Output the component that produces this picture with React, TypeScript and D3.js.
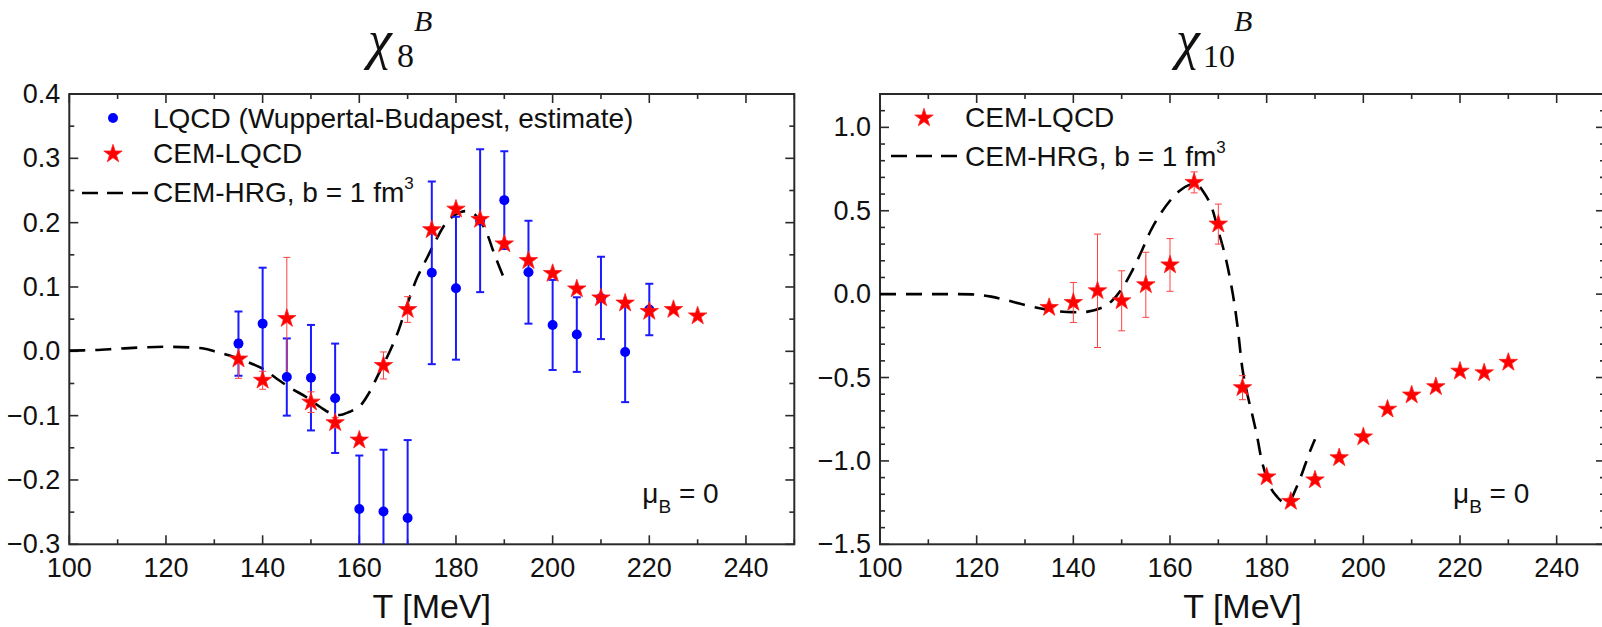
import React from "react";
import * as d3 from "d3";

// ---------- Data ----------
const T_LQCD = [135, 140, 145, 150, 155, 160, 165, 170, 175, 180, 185, 190, 195, 200, 205, 210, 215, 220];
const chi8_LQCD = [0.012, 0.043, -0.04, -0.041, -0.073, -0.245, -0.249, -0.259, 0.122, 0.098, 0.203, 0.235, 0.123, 0.041, 0.026, 0.083, -0.001, 0.065];
const chi8_LQCD_err = [0.05, 0.087, 0.06, 0.082, 0.085, 0.083, 0.096, 0.121, 0.142, 0.111, 0.111, 0.076, 0.08, 0.07, 0.058, 0.064, 0.078, 0.04];

const T_CEM = [135, 140, 145, 150, 155, 160, 165, 170, 175, 180, 185, 190, 195, 200, 205, 210, 215, 220, 225, 230];
const chi8_CEM = [-0.012, -0.045, 0.051, -0.079, -0.111, -0.138, -0.022, 0.065, 0.189, 0.221, 0.205, 0.167, 0.141, 0.121, 0.097, 0.083, 0.075, 0.062, 0.065, 0.055];
const chi8_CEM_err = [0.03, 0.014, 0.095, 0.016, 0.008, 0.005, 0.021, 0.02, 0.005, 0.005, 0.005, 0.005, 0.005, 0.004, 0.004, 0.004, 0.004, 0.004, 0, 0];

const chi10_CEM = [-0.08, -0.05, 0.02, -0.04, 0.056, 0.175, 0.67, 0.42, -0.561, -1.096, -1.243, -1.114, -0.981, -0.856, -0.69, -0.605, -0.555, -0.462, -0.472, -0.409];
const chi10_CEM_err = [0.02, 0.12, 0.34, 0.18, 0.195, 0.158, 0.063, 0.12, 0.072, 0.02, 0.02, 0.02, 0.02, 0.02, 0.01, 0.01, 0.01, 0.01, 0.01, 0.01];

const T_HRG8 = [100, 105, 110, 115, 120, 125, 128, 130, 133, 136, 140, 143, 146, 149, 152, 154, 156, 158, 160, 162, 164, 166, 168, 170, 172, 174, 176, 178, 180, 182, 184, 186, 188, 190];
const chi8_HRG = [0.001, 0.002, 0.004, 0.006, 0.007, 0.006, 0.004, 0.0, -0.006, -0.014, -0.027, -0.043, -0.058, -0.071, -0.087, -0.096, -0.099, -0.094, -0.086, -0.065, -0.035, -0.005, 0.03, 0.075, 0.115, 0.145, 0.175, 0.2, 0.213, 0.218, 0.212, 0.19, 0.15, 0.112];

const T_HRG10 = [100, 105, 110, 115, 120, 123, 126, 130, 133, 136, 140, 143, 146, 148, 150, 152, 154, 156, 158, 160, 162, 164, 165.5, 167, 168.5, 170, 171.5, 173, 174, 175, 176, 177, 178, 179, 180, 181, 182, 183, 184, 185, 186, 187, 188, 189, 190];
const chi10_HRG = [0, 0, 0, 0, -0.003, -0.015, -0.035, -0.065, -0.085, -0.1, -0.108, -0.105, -0.08, -0.04, 0.03, 0.13, 0.25, 0.38, 0.48, 0.56, 0.62, 0.655, 0.66, 0.61, 0.53, 0.38, 0.22, 0.0, -0.2, -0.45, -0.6, -0.72, -0.85, -1.0, -1.1, -1.17, -1.21, -1.24, -1.25, -1.23, -1.17, -1.1, -1.02, -0.94, -0.87];

const xTicks = [100, 120, 140, 160, 180, 200, 220, 240];
const yTicks8 = [-0.3, -0.2, -0.1, 0.0, 0.1, 0.2, 0.3, 0.4];
const yTicks10 = [-1.5, -1.0, -0.5, 0.0, 0.5, 1.0];

const FONT = "'Liberation Sans', Arial, sans-serif";
const SERIF = "'Liberation Serif', 'DejaVu Serif', serif";

type PanelProps = {
  id: string;
  x0: number;
  x1: number;
  yDomain: [number, number];
  yTicks: number[];
  yMinorStep: number;
  yFmt: (v: number) => string;
  children: (x: d3.ScaleLinear<number, number>, y: d3.ScaleLinear<number, number>) => React.ReactNode;
};

const TOP = 94;
const BOTTOM = 544.3;

function Panel({ id, x0, x1, yDomain, yTicks, yMinorStep, yFmt, children }: PanelProps) {
  const x = d3.scaleLinear().domain([100, 250]).range([x0, x1]);
  const y = d3.scaleLinear().domain(yDomain).range([BOTTOM, TOP]);
  const xMinor = d3.range(100, 250.001, 10);
  const nMinor = Math.round((yDomain[1] - yDomain[0]) / yMinorStep);
  const yMinor = d3.range(0, nMinor + 1).map((i) => yDomain[0] + i * yMinorStep);
  const isMajorY = (v: number) => yTicks.some((t) => Math.abs(t - v) < 1e-6);
  const stroke = "#2a2a2a";
  return (
    <g>
      <defs>
        <clipPath id={id}>
          <rect x={x0} y={TOP} width={x1 - x0} height={BOTTOM - TOP} />
        </clipPath>
      </defs>
      {xMinor.map((t) => {
        const major = t % 20 === 0;
        const L = major ? 9 : 5;
        return (
          <g key={"xt" + t}>
            <line x1={x(t)} x2={x(t)} y1={BOTTOM} y2={BOTTOM - L} stroke={stroke} strokeWidth={1.6} />
            <line x1={x(t)} x2={x(t)} y1={TOP} y2={TOP + L} stroke={stroke} strokeWidth={1.6} />
          </g>
        );
      })}
      {yMinor.map((v, i) => {
        const L = isMajorY(v) ? 9 : 5;
        return (
          <g key={"yt" + i}>
            <line x1={x0} x2={x0 + L} y1={y(v)} y2={y(v)} stroke={stroke} strokeWidth={1.6} />
            <line x1={x1} x2={x1 - L} y1={y(v)} y2={y(v)} stroke={stroke} strokeWidth={1.6} />
          </g>
        );
      })}
      <rect x={x0} y={TOP} width={x1 - x0} height={BOTTOM - TOP} fill="none" stroke={stroke} strokeWidth={2} />
      {xTicks.map((t) => (
        <text key={"xl" + t} x={x(t)} y={577} textAnchor="middle" fontFamily={FONT} fontSize={27} fill="#111">
          {t}
        </text>
      ))}
      {yTicks.map((v) => (
        <text key={"yl" + v} x={x0 - 9} y={y(v) + 9} textAnchor="end" fontFamily={FONT} fontSize={27} fill="#111">
          {yFmt(v)}
        </text>
      ))}
      <text x={(x0 + x1) / 2} y={618} textAnchor="middle" fontFamily={FONT} fontSize={34} fill="#111">
        T [MeV]
      </text>
      <g clipPath={`url(#${id})`}>{children(x, y)}</g>
      <text x={x0 + 573} y={503} fontFamily={FONT} fontSize={28} fill="#111">
        μ<tspan fontSize={19} dy={10}>B</tspan>
        <tspan dy={-10}> = 0</tspan>
      </text>
    </g>
  );
}

const starPath = d3.symbol().type(d3.symbolStar).size(105)()!;

function Star({ cx, cy }: { cx: number; cy: number }) {
  return <path d={starPath} transform={`translate(${cx},${cy})`} fill="#ff0000" stroke="#ff2020" strokeWidth={0.8} />;
}

function ErrBar({ x, yTop, yBot, color, w, cap }: { x: number; yTop: number; yBot: number; color: string; w: number; cap: number }) {
  return (
    <g stroke={color} strokeWidth={w}>
      <line x1={x} x2={x} y1={yTop} y2={yBot} />
      <line x1={x - cap} x2={x + cap} y1={yTop} y2={yTop} />
      <line x1={x - cap} x2={x + cap} y1={yBot} y2={yBot} />
    </g>
  );
}

export default function App() {
  const fmt1 = (v: number) => (Math.abs(v) < 1e-9 ? "0.0" : d3.format(".1f")(v));
  return (
    <svg width={1602} height={627} style={{ position: "absolute", left: 0, top: 0, background: "#fff" }}>
      <rect width={1602} height={627} fill="#fff" />
      {/* Titles */}
      <text x={368} y={58} fontFamily={SERIF} fontSize={54} fontStyle="italic" fill="#111">χ</text>
      <text x={397} y={67} fontFamily={SERIF} fontSize={34} fill="#111">8</text>
      <text x={414} y={31} fontFamily={SERIF} fontSize={30} fontStyle="italic" fill="#111">B</text>

      <text x={1176} y={58} fontFamily={SERIF} fontSize={54} fontStyle="italic" fill="#111">χ</text>
      <text x={1203} y={67} fontFamily={SERIF} fontSize={32} fill="#111">10</text>
      <text x={1234} y={31} fontFamily={SERIF} fontSize={30} fontStyle="italic" fill="#111">B</text>

      <Panel id="clipL" x0={69.3} x1={794.3} yDomain={[-0.3, 0.4]} yTicks={yTicks8} yMinorStep={0.05} yFmt={fmt1}>
        {(x, y) => {
          const line = d3
            .line<number>()
            .x((_, i) => x(T_HRG8[i]))
            .y((d) => y(d))
            .curve(d3.curveCatmullRom);
          return (
            <g>
              <path d={line(chi8_HRG)!} fill="none" stroke="#000" strokeWidth={2.6} strokeDasharray="16 10" />
              {T_LQCD.map((t, i) => (
                <ErrBar key={"be" + t} x={x(t)} yTop={y(chi8_LQCD[i] + chi8_LQCD_err[i])} yBot={y(chi8_LQCD[i] - chi8_LQCD_err[i])} color="#1a1aff" w={2} cap={4} />
              ))}
              {T_CEM.map((t, i) =>
                chi8_CEM_err[i] > 0 ? (
                  <ErrBar key={"re" + t} x={x(t)} yTop={y(chi8_CEM[i] + chi8_CEM_err[i])} yBot={y(chi8_CEM[i] - chi8_CEM_err[i])} color="#ff4040" w={1} cap={3.5} />
                ) : null
              )}
              {T_LQCD.map((t, i) => (
                <circle key={"bd" + t} cx={x(t)} cy={y(chi8_LQCD[i])} r={5} fill="#0000ff" />
              ))}
              {T_CEM.map((t, i) => (
                <Star key={"rs" + t} cx={x(t)} cy={y(chi8_CEM[i])} />
              ))}
            </g>
          );
        }}
      </Panel>

      <Panel id="clipR" x0={880} x1={1605} yDomain={[-1.5, 1.2]} yTicks={yTicks10} yMinorStep={0.1} yFmt={fmt1}>
        {(x, y) => {
          const line = d3
            .line<number>()
            .x((_, i) => x(T_HRG10[i]))
            .y((d) => y(d))
            .curve(d3.curveCatmullRom);
          return (
            <g>
              <path d={line(chi10_HRG)!} fill="none" stroke="#000" strokeWidth={2.6} strokeDasharray="16 10" />
              {T_CEM.map((t, i) => (
                <ErrBar key={"re" + t} x={x(t)} yTop={y(chi10_CEM[i] + chi10_CEM_err[i])} yBot={y(chi10_CEM[i] - chi10_CEM_err[i])} color="#ff4040" w={1} cap={3.5} />
              ))}
              {T_CEM.map((t, i) => (
                <Star key={"rs" + t} cx={x(t)} cy={y(chi10_CEM[i])} />
              ))}
            </g>
          );
        }}
      </Panel>

      {/* Left legend */}
      <g fontFamily={FONT} fontSize={28} fill="#111">
        <circle cx={113} cy={118} r={5} fill="#0000ff" />
        <text x={153} y={128}>LQCD (Wuppertal-Budapest, estimate)</text>
        <Star cx={113} cy={154} />
        <text x={153} y={163}>CEM-LQCD</text>
        <line x1={82} x2={148} y1={193} y2={193} stroke="#000" strokeWidth={2.6} strokeDasharray="16 9" />
        <text x={153} y={202}>
          CEM-HRG, b = 1 fm<tspan fontSize={17} dy={-13}>3</tspan>
        </text>
      </g>
      {/* Right legend */}
      <g fontFamily={FONT} fontSize={28} fill="#111">
        <Star cx={924} cy={118} />
        <text x={965} y={127}>CEM-LQCD</text>
        <line x1={891} x2={957} y1={156} y2={156} stroke="#000" strokeWidth={2.6} strokeDasharray="16 9" />
        <text x={965} y={166}>
          CEM-HRG, b = 1 fm<tspan fontSize={17} dy={-13}>3</tspan>
        </text>
      </g>
    </svg>
  );
}
